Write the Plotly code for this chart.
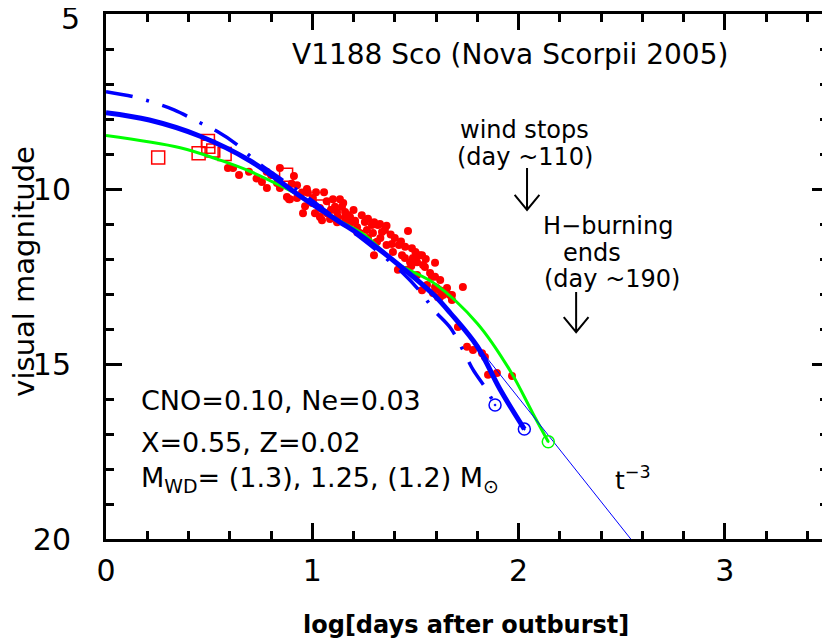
import plotly.graph_objects as go

# --- model light curves: log t [days] vs visual magnitude ---
# 1.3 Msun model (dash-dot)
m13_x = [0.0, 0.13, 0.23, 0.33, 0.45, 0.54, 0.63, 0.73, 0.85, 1.0, 1.18, 1.3, 1.44, 1.53, 1.59, 1.67, 1.73, 1.78, 1.84, 1.886]
m13_y = [7.22, 7.36, 7.53, 7.74, 8.09, 8.36, 8.71, 9.22, 9.72, 10.33, 11.15, 11.7, 12.41, 12.98, 13.46, 13.97, 14.6, 15.17, 15.69, 16.17]
# 1.25 Msun model (thick solid)
m125_x = [0.0, 0.21, 0.46, 0.7, 0.94, 1.13, 1.23, 1.42, 1.59, 1.67, 1.8, 1.91, 2.028]
m125_y = [7.82, 8.03, 8.5, 9.2, 10.2, 10.93, 11.31, 12.17, 13.03, 13.55, 14.5, 15.72, 16.86]
# 1.2 Msun model (green)
m12_x = [0.0, 0.36, 0.55, 0.7, 0.84, 0.94, 1.13, 1.25, 1.41, 1.59, 1.8, 1.96, 2.07, 2.144]
m12_y = [8.47, 8.82, 9.17, 9.5, 9.89, 10.2, 10.9, 11.3, 12.12, 12.69, 13.84, 15.2, 16.42, 17.22]
# t^-3 extension (thin)
tail_x = [1.6, 2.56]
tail_y = [13.0, 20.12]

# end points of the wind phase (open circles)
end_blue_x = [1.886, 2.028]
end_blue_y = [16.17, 16.86]
end_green_x = [2.144]
end_green_y = [17.22]

# --- observations ---
sq_x = [0.253, 0.449, 0.494, 0.496, 0.52, 0.575, 0.873, 1.05]
sq_y = [9.10, 8.98, 8.63, 8.79, 8.9, 9.0, 9.59, 10.5]

dot_x = [0.591, 0.616, 0.645, 0.693, 0.756, 0.780, 0.779, 0.843, 0.829, 0.843, 0.877, 0.887, 0.911, 0.926,
         0.974, 0.979, 1.018, 1.057, 0.892, 0.926, 0.955, 0.965, 1.003, 1.013, 1.037, 1.047, 1.086, 1.100,
         1.134, 1.110, 1.144, 1.159, 1.120, 1.125, 1.159, 1.183, 1.207, 1.217, 1.173, 1.071, 1.037,
         1.183, 1.207, 1.255, 1.289, 1.318, 1.338, 1.265, 1.294, 1.270, 1.314, 1.231, 1.464, 1.386, 1.420,
         1.391, 1.435, 1.483, 1.449, 1.532, 1.474, 1.508, 1.299, 1.415, 1.459, 1.546, 1.595, 1.508, 1.571,
         1.595, 1.556, 1.595, 1.730, 1.619, 1.634, 1.677, 1.532, 1.168, 1.217, 1.328, 1.352, 1.304, 1.488,
         1.522, 1.580, 1.604, 1.653, 1.667, 1.677, 1.619, 1.585, 1.609, 1.537, 1.512,
         1.706, 1.750, 1.779, 1.823, 1.837, 1.852, 1.895, 1.968,
         1.07, 1.09, 1.15, 1.2, 1.24, 1.27, 1.3, 1.36, 1.38, 1.4, 1.43, 1.45, 1.33, 1.36, 1.5, 1.55,
         1.48, 1.62, 1.0, 0.95, 0.9, 0.73, 0.8, 1.12]
dot_y = [9.40, 9.40, 9.60, 9.51, 9.80, 9.97, 9.51, 9.40, 9.83, 9.97, 10.23, 10.29, 9.63, 9.89,
         10.0, 10.11, 10.09, 10.09, 10.29, 10.26, 10.69, 10.49, 10.26, 10.69, 10.80, 10.89, 10.86, 10.29,
         10.29, 10.51, 10.51, 10.66, 10.66, 10.80, 10.83, 10.97, 10.91, 11.09, 10.74, 10.69, 10.54,
         10.80, 10.94, 10.94, 11.03, 11.03, 11.23, 11.17, 11.26, 11.40, 11.51, 11.26, 11.20, 11.57, 11.60,
         11.80, 11.89, 11.69, 11.97, 11.89, 12.09, 12.09, 11.89, 12.31, 12.31, 12.23, 12.11, 12.46, 12.40,
         12.51, 12.74, 12.80, 12.80, 12.89, 13.03, 13.03, 12.89, 11.0, 11.23, 11.0, 11.17, 11.54, 11.97,
         11.89, 12.51, 12.83, 12.83, 13.03, 13.17, 13.09, 12.97, 13.09, 12.17, 11.89,
         13.94, 14.51, 14.6, 14.69, 14.8, 15.31, 15.26, 15.34,
         10.35, 10.6, 10.4, 10.6, 10.75, 10.85, 10.95, 11.05, 11.3, 11.4, 11.5, 11.65, 11.4, 11.6, 11.8, 12.0,
         12.2, 12.6, 10.4, 10.1, 9.85, 9.7, 9.6, 10.95]

# y tick labels; the top one ("5") is drawn as an annotation so it is not clipped at the page edge
y_ticks = [5, 10, 15, 20]
y_ticktext = ["", "10", "15", "20"]

FONT = "DejaVu Sans"

fig = go.Figure()

fig.add_trace(go.Scatter(x=dot_x, y=dot_y, mode="markers",
                         marker=dict(color="#ff0000", size=8, line=dict(width=0))))
fig.add_trace(go.Scatter(x=sq_x, y=sq_y, mode="markers",
                         marker=dict(symbol="square-open", color="#ff0000", size=13, line=dict(width=1.5))))
fig.add_trace(go.Scatter(x=m12_x, y=m12_y, mode="lines", line=dict(color="#00ff00", width=3, shape="spline")))
fig.add_trace(go.Scatter(x=tail_x, y=tail_y, mode="lines", line=dict(color="#0000ff", width=1)))
fig.add_trace(go.Scatter(x=m125_x, y=m125_y, mode="lines", line=dict(color="#0000ff", width=5, shape="spline")))
fig.add_trace(go.Scatter(x=m13_x, y=m13_y, mode="lines",
                         line=dict(color="#0000ff", width=3.5, dash="27px,14px,3px,14px", shape="spline")))
fig.add_trace(go.Scatter(x=end_blue_x, y=end_blue_y, mode="markers",
                         marker=dict(symbol="circle-open-dot", color="#0000ff", size=12, line=dict(width=1.5))))
fig.add_trace(go.Scatter(x=end_green_x, y=end_green_y, mode="markers",
                         marker=dict(symbol="circle-open-dot", color="#00ff00", size=12, line=dict(width=1.5))))

# arrows (vertical line with an open V head)
def arrow(x, y0, y1):
    return dict(type="path", xref="x", yref="y",
                path=f"M {x},{y0} L {x},{y1} M {x-0.06},{y1-0.43} L {x},{y1} L {x+0.06},{y1-0.43}",
                line=dict(color="black", width=2))

shapes = [arrow(2.041, 9.4, 10.6), arrow(2.279, 12.94, 14.09)]

txt = dict(size=24, color="black", family=FONT)
big = dict(size=27, color="black", family=FONT)
annotations = [
    dict(x=1.958, y=6.17, text="V1188 Sco (Nova Scorpii 2005)", font=dict(size=28, color="black", family=FONT)),
    dict(x=2.03, y=8.3, text="wind stops", font=txt),
    dict(x=2.03, y=9.08, text="(day ~110)", font=txt),
    dict(x=2.433, y=11.07, text="H\u2212burning", font=txt),
    dict(x=2.356, y=11.82, text="ends", font=txt),
    dict(x=2.453, y=12.58, text="(day ~190)", font=txt),
    dict(x=0.16, y=16.03, text="CNO=0.10, Ne=0.03", xanchor="left", font=big),
    dict(x=0.16, y=17.23, text="X=0.55, Z=0.02", xanchor="left", font=big),
    dict(x=0.16, y=18.31, text="M<sub>WD</sub>= (1.3), 1.25, (1.2) M<sub>\u2299</sub>", xanchor="left", font=big),
    dict(x=2.458, y=18.26, text="t<sup>\u22123</sup>", xanchor="left", font=dict(size=25, color="black", family=FONT)),
    dict(x=0, y=1, xref="paper", yref="paper", text="5", xanchor="right", yanchor="middle",
         xshift=-24, yshift=-4, font=dict(size=30, color="black", family=FONT)),
    dict(x=-0.114, y=0.5105, xref="paper", yref="paper", text="visual magnitude", textangle=-90,
         xanchor="center", yanchor="middle", font=dict(size=29, color="black", family=FONT)),
    dict(x=0.4986, y=-0.1638, xref="paper", yref="paper", text="<b>log[days after outburst]</b>",
         xanchor="center", yanchor="middle", font=dict(size=24, color="black", family=FONT)),
]
for a in annotations:
    a.setdefault("xref", "x")
    a.setdefault("yref", "y")
    a["showarrow"] = False

axis_common = dict(
    showgrid=False, zeroline=False, showline=True, linecolor="black", linewidth=3,
    mirror="ticks", ticks="inside", ticklen=16, tickwidth=2.5, tickcolor="black",
    ticklabeloverflow="allow", automargin=False,
    tickfont=dict(size=30, color="black", family=FONT),
)

# page body has an 8px margin, so the figure is a bit smaller than the window
fig.update_layout(
    width=822, height=632,
    margin=dict(l=98, r=2, t=6, b=101),
    plot_bgcolor="white", paper_bgcolor="white",
    showlegend=False,
    shapes=shapes,
    annotations=annotations,
    xaxis=dict(range=[0, 3.5], tick0=0, dtick=1, ticklabelstandoff=3,
               minor=dict(dtick=0.2, ticks="inside", ticklen=8, tickwidth=2.5, tickcolor="black"),
               **axis_common),
    yaxis=dict(range=[20, 5], tickmode="array", tickvals=y_ticks, ticktext=y_ticktext, ticklabelstandoff=26,
               minor=dict(tick0=5, dtick=1, ticks="inside", ticklen=8, tickwidth=2.5, tickcolor="black"),
               **axis_common),
)

fig.write_html("out.html")
